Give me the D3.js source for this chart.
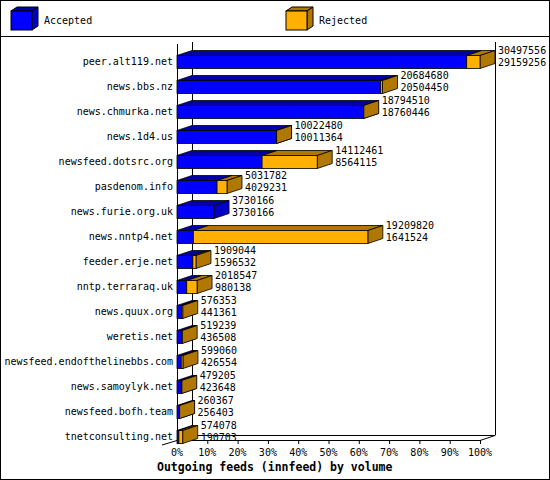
<!DOCTYPE html><html><head><meta charset="utf-8"><script src="https://cdn.jsdelivr.net/npm/d3@7"></script>
<style>body{margin:0;background:#fff}text{font-family:"DejaVu Sans Mono",monospace;font-size:10px}</style></head><body><svg id="c" width="550" height="480"></svg><script>
const hosts=["peer.alt119.net","news.bbs.nz","news.chmurka.net","news.1d4.us","newsfeed.dotsrc.org","pasdenom.info","news.furie.org.uk","news.nntp4.net","feeder.erje.net","nntp.terraraq.uk","news.quux.org","weretis.net","newsfeed.endofthelinebbs.com","news.samoylyk.net","newsfeed.bofh.team","tnetconsulting.net"];
const offered=[30497556,20684680,18794510,10022480,14112461,5031782,3730166,19209820,1909044,2018547,576353,519239,599060,479205,260367,574078];
const accepted=[29159256,20504450,18760446,10011364,8564115,4029231,3730166,1641524,1596532,980138,441361,436508,426554,423648,256403,190703];
const ticks=[0,10,20,30,40,50,60,70,80,90,100];
const svg=d3.select("#c");
const DX=15,DY=5,H=13,x0=177,x1=480;
svg.append("rect").attr("x",0.5).attr("y",0.5).attr("width",549).attr("height",479).attr("fill","#fff").attr("stroke","#000");
svg.append("line").attr("x1",0).attr("x2",550).attr("y1",36.5).attr("y2",36.5).attr("stroke","#000");
function box(g,x,y,w,h,front,top,side){
  g.append("polygon").attr("points",[[x,y],[x+DX,y-DY],[x+w+DX,y-DY],[x+w,y]].join(" ")).attr("fill",top).attr("stroke","#000").attr("stroke-width",0.8);
  g.append("polygon").attr("points",[[x+w,y],[x+w+DX,y-DY],[x+w+DX,y+h-DY],[x+w,y+h]].join(" ")).attr("fill",side).attr("stroke","#000").attr("stroke-width",0.8);
  g.append("rect").attr("x",x).attr("y",y).attr("width",w).attr("height",h).attr("fill",front).attr("stroke","#000").attr("stroke-width",0.8);
}
const BL=["#0000ff","#0000a8","#0000c8"],OR=["#ffb000","#b07800","#b07800"];
{const g=svg.append("g");
g.append("polygon").attr("points","11,11 17,7 38,7 32,11").attr("fill",BL[1]).attr("stroke","#000");
g.append("polygon").attr("points","32,11 38,7 38,26 32,30").attr("fill",BL[2]).attr("stroke","#000");
g.append("rect").attr("x",11).attr("y",11).attr("width",21).attr("height",19).attr("fill",BL[0]).attr("stroke","#000");
g.append("text").attr("x",44).attr("y",24).text("Accepted");
g.append("polygon").attr("points","286,11 292,7 313,7 307,11").attr("fill",OR[1]).attr("stroke","#000");
g.append("polygon").attr("points","307,11 313,7 313,26 307,30").attr("fill",OR[2]).attr("stroke","#000");
g.append("rect").attr("x",286).attr("y",11).attr("width",21).attr("height",19).attr("fill",OR[0]).attr("stroke","#000");
g.append("text").attr("x",319).attr("y",24).text("Rejected");}
const x=d3.scaleLinear().domain([0,d3.max(offered)]).range([x0,x1]);
const xp=d3.scaleLinear().domain([0,100]).range([x0,x1]);
const y=d3.scaleBand().domain(hosts).range([50,448]).paddingInner(0.47).paddingOuter(0.2);
svg.append("line").attr("x1",x0+DX+.5).attr("x2",x0+DX+.5).attr("y1",42).attr("y2",435).attr("stroke","#000");
svg.append("line").attr("x1",x1+DX+.5).attr("x2",x1+DX+.5).attr("y1",42).attr("y2",435.5).attr("stroke","#000");
svg.append("line").attr("x1",x0+DX).attr("x2",x1+DX).attr("y1",435.5).attr("y2",435.5).attr("stroke","#000");
svg.append("line").attr("x1",x1+DX).attr("x2",x1).attr("y1",435.5).attr("y2",440.5).attr("stroke","#000");
svg.append("line").attr("x1",x0+.5).attr("x2",x0+.5).attr("y1",44).attr("y2",440).attr("stroke","#000");
svg.append("line").attr("x1",x0-15).attr("x2",x0).attr("y1",445).attr("y2",440.5).attr("stroke","#000");
svg.append("line").attr("x1",x0).attr("x2",x1).attr("y1",440.5).attr("y2",440.5).attr("stroke","#000");
ticks.forEach(t=>{svg.append("line").attr("x1",xp(t)+.5).attr("x2",xp(t)+.5).attr("y1",440).attr("y2",444).attr("stroke","#000");
svg.append("text").attr("x",xp(t)).attr("y",456).attr("text-anchor","middle").text(t+"%");});
svg.append("text").attr("x",157).attr("y",471).attr("font-weight","bold").style("font-size","11.5px").text("Outgoing feeds (innfeed) by volume");
hosts.forEach((h,i)=>{
  const yy=Math.round(y(h))+.5, g=svg.append("g");
  const xa=x(accepted[i]),xo=x(offered[i]);
  box(g,x0,yy,xa-x0,H,BL[0],BL[1],BL[2]);
  if(offered[i]>accepted[i]) box(g,xa,yy,xo-xa,H,OR[0],OR[1],OR[2]);
  svg.append("text").attr("x",x0-4).attr("y",yy+9).attr("text-anchor","end").text(h);
  svg.append("text").attr("x",xo+DX+3).attr("y",yy-2).text(offered[i]);
  svg.append("text").attr("x",xo+DX+3).attr("y",yy+10).text(accepted[i]);
});
</script></body></html>
